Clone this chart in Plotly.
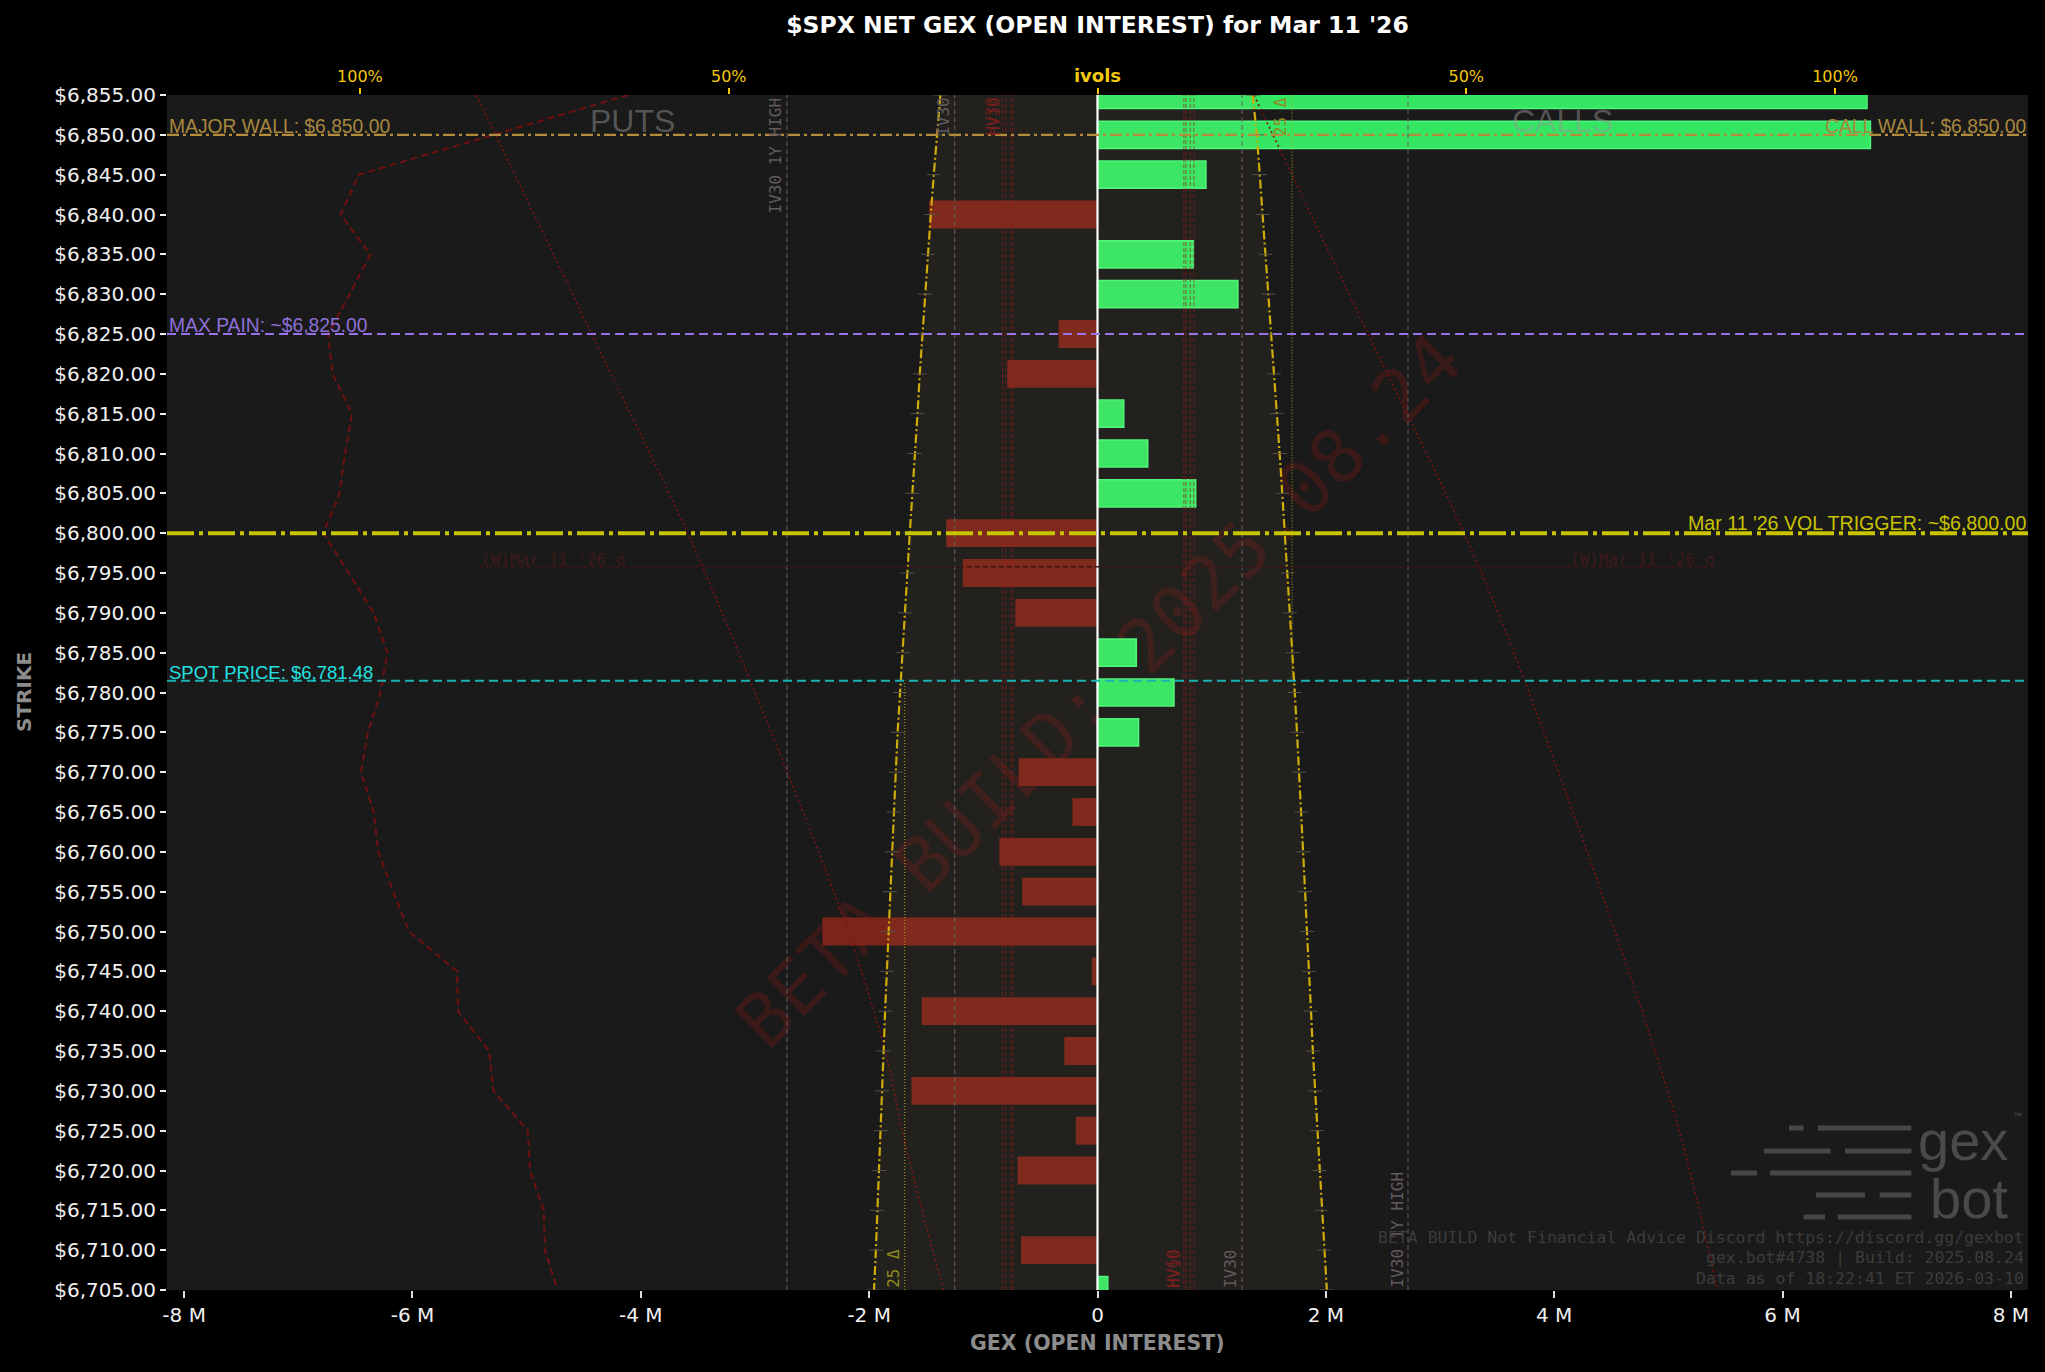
import plotly.graph_objects as go

# ---------------- data ----------------
STRIKES = [6855, 6850, 6845, 6840, 6835, 6830, 6825, 6820, 6815, 6810, 6805,
           6800, 6795, 6790, 6785, 6780, 6775, 6770, 6765, 6760, 6755, 6750,
           6745, 6740, 6735, 6730, 6725, 6720, 6715, 6710, 6705]
# net GEX per strike, millions
NET_GEX_M = [6.74, 6.77, 0.95, -1.475, 0.84, 1.23, -0.34, -0.79, 0.23, 0.44, 0.86,
             -1.325, -1.18, -0.72, 0.34, 0.67, 0.36, -0.69, -0.22, -0.86, -0.66, -2.41,
             -0.05, -1.54, -0.29, -1.63, -0.19, -0.70, 0.0, -0.67, 0.09]
# dashed put profile curve, millions
PUT_PROFILE_M = [-4.11, -5.29, -6.47, -6.63, -6.37, -6.55, -6.74, -6.70, -6.53, -6.59, -6.64,
                 -6.78, -6.56, -6.34, -6.22, -6.28, -6.39, -6.45, -6.34, -6.30, -6.17, -6.03,
                 -5.61, -5.60, -5.33, -5.29, -4.99, -4.97, -4.85, -4.84, -4.73]
# implied vols (%), put side and call side
IVOL_PUT = [21.3, 21.8, 22.2, 22.6, 23.0, 23.4, 23.7, 24.1, 24.4, 24.8, 25.1,
            25.45, 25.8, 26.1, 26.45, 26.8, 27.1, 27.35, 27.6, 27.9, 28.15, 28.4,
            28.6, 28.8, 29.0, 29.2, 29.4, 29.6, 29.85, 30.05, 30.3]
IVOL_CALL = [21.05, 21.6, 22.0, 22.4, 22.8, 23.15, 23.5, 23.9, 24.3, 24.7, 25.05,
             25.4, 25.8, 26.1, 26.45, 26.75, 27.05, 27.35, 27.65, 27.9, 28.15, 28.4,
             28.7, 28.95, 29.2, 29.5, 29.8, 30.1, 30.4, 30.75, 31.1]
# sigma cone (dotted) lines
SIGMA_PUT_STRIKES = [6855, 6825, 6800, 6788.7, 6753, 6735, 6723.7, 6705]
SIGMA_PUT_M = [-5.44, -4.43, -3.59, -3.25, -2.26, -1.86, -1.69, -1.35]
SIGMA_CALL_STRIKES = [6855, 6825, 6800, 6781.5, 6728.7, 6705]
SIGMA_CALL_M = [1.37, 2.37, 3.21, 3.74, 5.02, 5.43]
SIGMA_LEVEL = 6795.8
SIGMA_RANGE_M = [-5.42, 5.43]

SPOT = 6781.48
MAJOR_WALL = 6850
CALL_WALL = 6850
MAX_PAIN = 6825
VOL_TRIGGER = 6800

# vertical vol levels (%)
IV30_PUT, IV30_CALL = 19.35, 19.6
IV30_1Y_HIGH = 42.1
HV_PUT = [12.86, 12.43, 11.75, 11.45]
HV_CALL = [11.71, 11.99, 12.58, 13.07]
DELTA25_PUT, DELTA25_CALL = 26.13, 26.39

X_RANGE_M = [-8.15, 8.15]
GEX_M_PER_100PCT = 6.46
X_TICKS_M = [-8, -6, -4, -2, 0, 2, 4, 6, 8]
X_TICK_LABELS = ["-8 M", "-6 M", "-4 M", "-2 M", "0", "2 M", "4 M", "6 M", "8 M"]
IVOL_TICKS = [-100, -50, 0, 50, 100]
IVOL_TICK_LABELS = ["100%", "50%", "<span style='font-size:18px'><b>ivols</b></span>", "50%", "100%"]
Y_TICK_LABELS = [f"${s:,.2f}" for s in STRIKES]

# ---------------- figure ----------------
W, H = 2045, 1372
ML, MR, MT, MB = 167, 17, 95, 82
PW, PH = W - ML - MR, H - MT - MB


def px_x(p):
    return (p - ML) / PW


def px_y(p):
    return (H - MB - p) / PH


X2_RANGE = [v / GEX_M_PER_100PCT * 100 for v in X_RANGE_M]
Y_RANGE = [min(STRIKES), max(STRIKES)]

fig = go.Figure()

# shaded band between ivol curves
fig.add_trace(go.Scatter(
    x=[-v for v in IVOL_PUT] + IVOL_CALL[::-1],
    y=STRIKES + STRIKES[::-1],
    xaxis="x2", fill="toself", fillcolor="rgba(255,235,110,0.035)",
    line=dict(width=0), mode="lines", hoverinfo="skip", showlegend=False))

# bars
call_y = [s for s, v in zip(STRIKES, NET_GEX_M) if v > 0]
call_x = [v for v in NET_GEX_M if v > 0]
put_y = [s for s, v in zip(STRIKES, NET_GEX_M) if v < 0]
put_x = [v for v in NET_GEX_M if v < 0]
fig.add_trace(go.Bar(orientation="h", y=call_y, x=call_x, width=3.4,
                     marker=dict(color="#35e663", line=dict(color="#4cf57c", width=1.5)),
                     showlegend=False))
fig.add_trace(go.Bar(orientation="h", y=put_y, x=put_x, width=3.5,
                     marker=dict(color="#7b2419", line=dict(width=0)),
                     showlegend=False))

# put profile dashed curve
fig.add_trace(go.Scatter(x=PUT_PROFILE_M, y=STRIKES, mode="lines",
                         line=dict(color="#6e1111", width=2, dash="7px,4px"),
                         hoverinfo="skip", showlegend=False))
# sigma dotted lines
fig.add_trace(go.Scatter(x=SIGMA_PUT_M, y=SIGMA_PUT_STRIKES, mode="lines",
                         line=dict(color="#7c1212", width=1.6, dash="2px,3px", shape="spline"),
                         hoverinfo="skip", showlegend=False))
fig.add_trace(go.Scatter(x=SIGMA_CALL_M, y=SIGMA_CALL_STRIKES, mode="lines",
                         line=dict(color="#7c1212", width=1.6, dash="2px,3px", shape="spline"),
                         hoverinfo="skip", showlegend=False))

# ivol curves
for vals in ([-v for v in IVOL_PUT], IVOL_CALL):
    fig.add_trace(go.Scatter(
        x=vals, y=STRIKES, xaxis="x2", mode="lines+markers",
        line=dict(color="#cfac08", width=2.2, dash="9px,3px,2px,3px"),
        marker=dict(symbol="line-ew", size=10, line=dict(width=1, color="#555046")),
        hoverinfo="skip", showlegend=False))

shapes = []
# watermark (below traces)
shapes.append(dict(type="rect", xref="x", yref="y", x0=-0.1, x1=0.06, y0=6779.5, y1=6781.9,
                   line=dict(width=0), fillcolor="rgba(0,0,0,0)", layer="below",
                   label=dict(text="BETA BUILD: 2025.08.24", textangle=-44.5,
                              textposition="middle center",
                              font=dict(family="DejaVu Sans Mono", size=74,
                                        color="rgba(150,25,25,0.26)"))))


def vline(x, color, dash, width=1, xref="x2", y0=0, y1=1, yref="paper"):
    shapes.append(dict(type="line", xref=xref, yref=yref, x0=x, x1=x, y0=y0, y1=y1,
                       line=dict(color=color, width=width, dash=dash), layer="above"))

GRAY_V = "#6a5c63"
RED_V = "rgba(150,28,28,0.7)"
for v in (-IV30_1Y_HIGH, IV30_1Y_HIGH, -IV30_PUT, IV30_CALL):
    vline(v, GRAY_V, "5px,3px")
for v in HV_PUT:
    vline(-v, RED_V, "4px,2px", width=0.9)
for v in HV_CALL:
    vline(v, RED_V, "4px,2px", width=0.9)
# 25 delta lines: put side below spot, call side above spot
vline(-DELTA25_PUT, "#b3a510", "1px,2px", yref="y", y0=Y_RANGE[0], y1=SPOT)
vline(DELTA25_CALL, "#b3a510", "1px,2px", yref="y", y0=SPOT, y1=Y_RANGE[1])
# zero line
vline(0, "#ffffff", "solid", width=2.2, xref="x")


def hline(y, color, dash, width):
    shapes.append(dict(type="line", xref="paper", yref="y", x0=0, x1=1, y0=y, y1=y,
                       line=dict(color=color, width=width, dash=dash), layer="above"))

hline(MAJOR_WALL, "#b48d3c", "12px,4px,3px,4px", 2.2)
hline(MAX_PAIN, "#9a72e8", "9px,5px", 2)
hline(VOL_TRIGGER, "#c9c400", "27px,5px,4px,5px", 4)
hline(SPOT, "#18b4b4", "9px,5px", 2)
shapes.append(dict(type="line", xref="x", yref="y", x0=SIGMA_RANGE_M[0], x1=SIGMA_RANGE_M[1],
                   y0=SIGMA_LEVEL, y1=SIGMA_LEVEL,
                   line=dict(color="#3e1616", width=1.5, dash="5px,3px"), layer="above"))

# gexbot logo speed lines
LOGO_ROWS = [
    (1128, [(1789, 1803.5), (1817.8, 1911.4)]),
    (1151, [(1764, 1830.6), (1845, 1911.4)]),
    (1173, [(1731, 1757), (1770, 1911.4)]),
    (1195, [(1816, 1865), (1879.6, 1911.4)]),
    (1217, [(1803.6, 1825), (1837.8, 1911.4)]),
]
for yy, segs in LOGO_ROWS:
    for a, b in segs:
        shapes.append(dict(type="line", xref="paper", yref="paper",
                           x0=px_x(a), x1=px_x(b), y0=px_y(yy), y1=px_y(yy),
                           line=dict(color="#474747", width=5), layer="above"))

ann = []
LBL_FONT = "Liberation Sans"
LBL_SIZE = 19.3
ann.append(dict(text="MAJOR WALL: $6,850.00", xref="paper", yref="y", x=0, y=MAJOR_WALL,
                xanchor="left", yanchor="bottom", yshift=-4, showarrow=False,
                font=dict(family=LBL_FONT, size=LBL_SIZE, color="#a8873f")))
ann.append(dict(text="CALL WALL: $6,850.00", xref="paper", yref="y", x=1, y=CALL_WALL,
                xanchor="right", yanchor="bottom", yshift=-4, showarrow=False,
                font=dict(family=LBL_FONT, size=LBL_SIZE, color="#a8873f")))
ann.append(dict(text="MAX PAIN: ~$6,825.00", xref="paper", yref="y", x=0, y=MAX_PAIN,
                xanchor="left", yanchor="bottom", yshift=-4, showarrow=False,
                font=dict(family=LBL_FONT, size=LBL_SIZE, color="#8f6fd8")))
ann.append(dict(text="SPOT PRICE: $6,781.48", xref="paper", yref="y", x=0, y=SPOT,
                xanchor="left", yanchor="bottom", yshift=-4, showarrow=False,
                font=dict(family=LBL_FONT, size=18.5, color="#22e0e0")))
ann.append(dict(text="Mar 11 '26 VOL TRIGGER: ~$6,800.00", xref="paper", yref="y", x=1, y=VOL_TRIGGER,
                xanchor="right", yanchor="bottom", yshift=-3, showarrow=False,
                font=dict(family=LBL_FONT, size=19.6, color="#c8c200")))
ann.append(dict(text="PUTS", xref="x", yref="y", x=-4.07, y=6851.7, showarrow=False,
                xanchor="center", yanchor="middle",
                font=dict(family=LBL_FONT, size=32, color="rgba(150,150,150,0.47)")))
ann.append(dict(text="CALLS", xref="x", yref="y", x=4.07, y=6851.7, showarrow=False,
                xanchor="center", yanchor="middle",
                font=dict(family=LBL_FONT, size=32, color="rgba(150,150,150,0.47)")))
ann.append(dict(text="(W)Mar 11 '26 σ", xref="x", yref="y", x=SIGMA_RANGE_M[0], y=SIGMA_LEVEL,
                xanchor="left", yanchor="bottom", yshift=-4, showarrow=False,
                font=dict(family="DejaVu Sans Mono", size=16, color="#3f1a1a")))
ann.append(dict(text="(W)Mar 11 '26 σ", xref="x", yref="y", x=SIGMA_RANGE_M[1], y=SIGMA_LEVEL,
                xanchor="right", yanchor="bottom", yshift=-4, showarrow=False,
                font=dict(family="DejaVu Sans Mono", size=16, color="#3f1a1a")))

MONO = "DejaVu Sans Mono"


def vlabel(text, x, top, color):
    ann.append(dict(text=text, xref="x2", yref="y", x=x,
                    y=Y_RANGE[1] if top else Y_RANGE[0],
                    xanchor="right", yanchor="top" if top else "bottom",
                    textangle=-90, showarrow=False,
                    font=dict(family=MONO, size=16, color=color)))

RED_TXT = "rgba(150,30,30,0.6)"
vlabel("IV30 1Y HIGH", -IV30_1Y_HIGH, True, "#625a5e")
vlabel("IV30", -IV30_PUT, True, "#625a5e")
vlabel("HV30", -HV_PUT[0], True, RED_TXT)
vlabel("HV10", -HV_PUT[1], True, RED_TXT)
vlabel("25 Δ", -DELTA25_PUT, False, "#8f8a1e")
vlabel("HV60", HV_CALL[0], False, RED_TXT)
vlabel("HV10", HV_CALL[1], False, RED_TXT)
vlabel("IV30", IV30_CALL, False, "#625a5e")
vlabel("IV30 1Y HIGH", IV30_1Y_HIGH, False, "#625a5e")
vlabel("25 Δ", DELTA25_CALL, True, "#8f8a1e")

# logo text
ann.append(dict(text="gex", xref="paper", yref="paper", x=px_x(2010), y=px_y(1140),
                xanchor="right", yanchor="middle", showarrow=False,
                font=dict(family="Liberation Sans", size=56, color="#4a4a4a")))
ann.append(dict(text="bot", xref="paper", yref="paper", x=px_x(2010), y=px_y(1198),
                xanchor="right", yanchor="middle", showarrow=False,
                font=dict(family="Liberation Sans", size=56, color="#4a4a4a")))
ann.append(dict(text="™", xref="paper", yref="paper", x=px_x(2011), y=px_y(1116),
                xanchor="left", yanchor="middle",
                showarrow=False, font=dict(family="Liberation Sans", size=9, color="#4a4a4a")))
FOOT = ["BETA BUILD Not Financial Advice Discord https://discord.gg/gexbot",
        "gex.bot#4738 | Build: 2025.08.24",
        "Data as of 18:22:41 ET 2026-03-10"]
for t, yy in zip(FOOT, [1237, 1257, 1278]):
    ann.append(dict(text=t, xref="paper", yref="paper", x=px_x(2026), y=px_y(yy),
                    xanchor="right", yanchor="middle", showarrow=False,
                    font=dict(family=MONO, size=16.5, color="#3c3c3c")))

# axis titles
ann.append(dict(text="<b>STRIKE</b>", xref="paper", yref="paper", x=px_x(23.5), y=0.5,
                xanchor="center", yanchor="middle",
                textangle=-90, showarrow=False,
                font=dict(family="DejaVu Sans", size=20, color="#8c8c8c")))
ann.append(dict(text="<b>GEX (OPEN INTEREST)</b>", xref="paper", yref="paper", x=0.5, y=px_y(1343),
                xanchor="center", yanchor="middle",
                showarrow=False, font=dict(family="DejaVu Sans", size=20.5, color="#8c8c8c")))

fig.update_layout(
    width=W, height=H,
    margin=dict(l=ML, r=MR, t=MT, b=MB),
    paper_bgcolor="#000000", plot_bgcolor="#1a1a1a",
    barmode="overlay", showlegend=False,
    title=dict(text="<b>$SPX NET GEX (OPEN INTEREST) for Mar 11 '26</b>",
               x=0.5, xref="paper", xanchor="center", y=1 - 25 / H, yref="container",
               yanchor="middle", font=dict(family="DejaVu Sans", size=23.5, color="#ffffff")),
    xaxis=dict(range=X_RANGE_M, tickvals=X_TICKS_M, ticktext=X_TICK_LABELS,
               showgrid=False, zeroline=False, showline=False,
               ticks="outside", ticklen=7, tickwidth=1.5, tickcolor="#dddddd",
               tickfont=dict(family="DejaVu Sans", size=20, color="#f0f0f0")),
    xaxis2=dict(range=X2_RANGE, overlaying="x", side="top", anchor="y",
                tickvals=IVOL_TICKS, ticktext=IVOL_TICK_LABELS,
                showgrid=False, zeroline=False, showline=False,
                ticks="outside", ticklen=6, tickwidth=2, tickcolor="#f2c811",
                tickfont=dict(family="DejaVu Sans", size=16, color="#f2c811")),
    yaxis=dict(range=Y_RANGE, tickvals=STRIKES, ticktext=Y_TICK_LABELS,
               showgrid=False, zeroline=False, showline=False,
               ticks="outside", ticklen=6, tickwidth=1.5, tickcolor="#eeeeee",
               tickfont=dict(family="DejaVu Sans", size=20, color="#f0f0f0")),
    shapes=shapes, annotations=ann,
)

fig.write_html("out.html", config={"displayModeBar": False},
               post_script="document.body.style.margin='0';document.body.style.background='#000';")
